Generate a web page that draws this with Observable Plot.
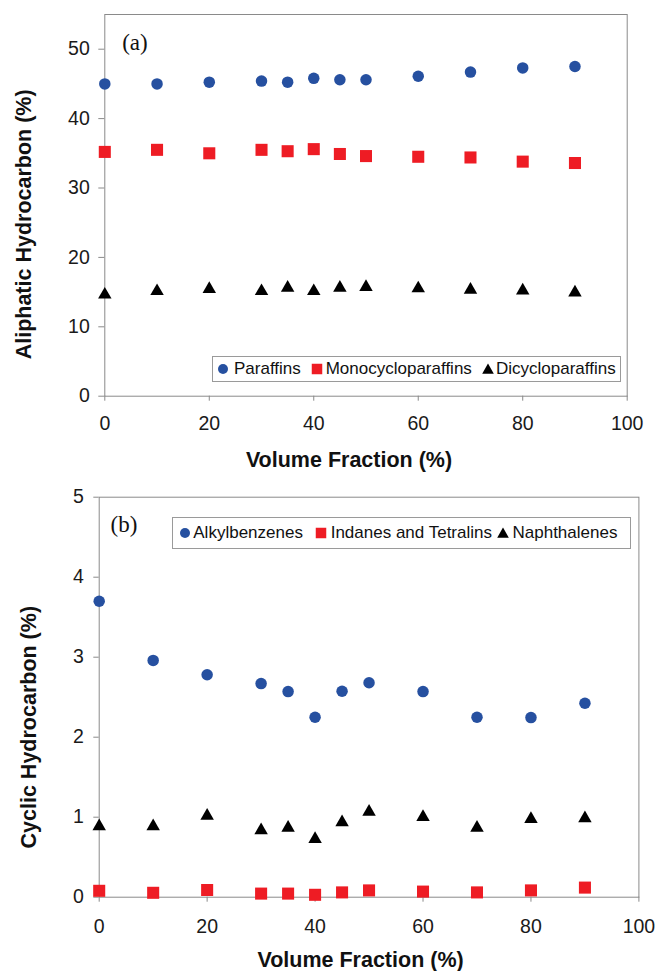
<!DOCTYPE html>
<html>
<head>
<meta charset="utf-8">
<script src="https://cdn.jsdelivr.net/npm/d3@7"></script>
<script src="https://cdn.jsdelivr.net/npm/@observablehq/plot@0.6"></script>
<style>
  body { margin: 0; background: #fff; }
  #wrap { position: relative; width: 658px; height: 971px; overflow: hidden; font-family: "Liberation Sans", Arial, sans-serif; }
  .legend { position: absolute; border: 1px solid #9a9a9a; box-sizing: border-box; background: #fff; }
  .legend span.t { position: absolute; font-size: 17px; color: #111; white-space: nowrap; }
  .legend svg { position: absolute; overflow: visible; }
</style>
</head>
<body>
<div id="wrap"></div>
<script>
// ---- data ----
const volumeFraction = [0, 10, 20, 30, 35, 40, 45, 50, 60, 70, 80, 90];

const paraffins          = [45.0, 45.0, 45.25, 45.4, 45.25, 45.8, 45.6, 45.6, 46.1, 46.7, 47.3, 47.5];
const monocycloparaffins = [35.2, 35.5, 35.0, 35.5, 35.3, 35.6, 34.9, 34.6, 34.5, 34.4, 33.8, 33.6];
const dicycloparaffins   = [14.9, 15.4, 15.7, 15.4, 15.9, 15.4, 15.9, 16.0, 15.8, 15.6, 15.5, 15.2];

const alkylbenzenes      = [3.70, 2.96, 2.78, 2.67, 2.57, 2.25, 2.575, 2.68, 2.57, 2.25, 2.245, 2.425];
const indanesTetralins   = [0.08, 0.055, 0.09, 0.045, 0.045, 0.03, 0.06, 0.085, 0.07, 0.06, 0.085, 0.12];
const naphthalenes       = [0.91, 0.91, 1.04, 0.86, 0.89, 0.75, 0.96, 1.09, 1.025, 0.89, 1.0, 1.01];

const xTicks = [0, 20, 40, 60, 80, 100];
const yTicksA = [0, 10, 20, 30, 40, 50];
const yTicksB = [0, 1, 2, 3, 4, 5];

const seriesA = ["Paraffins", "Monocycloparaffins", "Dicycloparaffins"];
const seriesB = ["Alkylbenzenes", "Indanes and Tetralins", "Naphthalenes"];
const colors = ["#2650a0", "#ee1c24", "#000000"];
const symbols = ["circle", "square", "triangle"];

const xLabel = "Volume Fraction (%)";
const yLabelA = "Aliphatic Hydrocarbon (%)";
const yLabelB = "Cyclic Hydrocarbon (%)";
const panelA = "(a)";
const panelB = "(b)";

// ---- helpers ----
const toRows = (vals) => volumeFraction.map((x, i) => ({x, y: vals[i]}));
const radii = {circle: 5.75, square: 6.8, triangle: 5.0};
const dyOf = {circle: 0, square: 0, triangle: 1.9};

function dots(vals, k) {
  const s = symbols[k];
  return Plot.dot(toRows(vals), {x: "x", y: "y", symbol: () => s, fill: colors[k], stroke: "none", r: radii[s], dy: dyOf[s]});
}

function makePanel({series, yDomain, yTicks, width, height, margins, ty, tx, xlab, ylab, tag}) {
  return Plot.plot({
    width, height,
    marginLeft: margins[0], marginRight: margins[1], marginTop: margins[2], marginBottom: margins[3],
    x: {domain: [0, 100]},
    y: {domain: yDomain},
    symbol: {domain: symbols, range: symbols},
    style: {fontFamily: "Liberation Sans, Arial, sans-serif", fontSize: "19.5px", color: "#1a1a1a", background: "white", overflow: "visible"},
    marks: [
      Plot.frame({stroke: "#8a8a8a"}),
      Plot.axisY({ticks: yTicks, tickSize: ty[0], tickPadding: ty[1], stroke: "#8a8a8a", label: null, tickFormat: d => String(d)}),
      Plot.axisX({ticks: xTicks, tickSize: tx[0], tickPadding: tx[1], stroke: "#8a8a8a", label: null, tickFormat: d => String(d)}),
      Plot.text([xLabel], {text: d => d, frameAnchor: "bottom", lineAnchor: "middle", dx: xlab[0], dy: xlab[1], fontSize: 21.5, fontWeight: "bold", fill: "#111"}),
      Plot.text([ylab[2]], {text: d => d, frameAnchor: "left", lineAnchor: "middle", textAnchor: "middle", rotate: -90, dx: ylab[0], dy: ylab[1], fontSize: 21.5, fontWeight: "bold", fill: "#111"}),
      Plot.text([tag[2]], {text: d => d, frameAnchor: "top-left", textAnchor: "start", lineAnchor: "middle", dx: tag[0], dy: tag[1], fontSize: 23, fontFamily: "Liberation Serif, Times New Roman, serif", fill: "#111"}),
      ...series.map((vals, k) => dots(vals, k))
    ]
  });
}

const wrap = document.getElementById("wrap");

const chartA = makePanel({
  series: [paraffins, monocycloparaffins, dicycloparaffins],
  yDomain: [0, 55], yTicks: yTicksA,
  width: 658, height: 480,
  margins: [104.3, 31.3, 14, 84.3],
  ty: [6, 9], tx: [5, 15.3],
  xlab: [-17, 64.3], ylab: [-80.3, 19, yLabelA], tag: [17.4, 28, panelA]
});
chartA.style.position = "absolute";
chartA.style.left = "0px";
chartA.style.top = "0px";
wrap.appendChild(chartA);

const chartB = makePanel({
  series: [alkylbenzenes, indanesTetralins, naphthalenes],
  yDomain: [0, 5], yTicks: yTicksB,
  width: 658, height: 491,
  margins: [98.7, 19.6, 16.7, 74.3],
  ty: [5.4, 10], tx: [5, 17.3],
  xlab: [-8.5, 63.3], ylab: [-69.7, 30, yLabelB], tag: [11.3, 27.3, panelB]
});
chartB.style.position = "absolute";
chartB.style.left = "0px";
chartB.style.top = "480px";
wrap.appendChild(chartB);

// ---- legends (HTML overlays) ----
function legend(box, names, symX, textX) {
  const div = document.createElement("div");
  div.className = "legend";
  Object.assign(div.style, {left: box[0] + "px", top: box[1] + "px", width: box[2] + "px", height: box[3] + "px"});
  const cy = box[3] / 2 - 1;
  names.forEach((name, k) => {
    const svg = d3.create("svg").attr("width", 14).attr("height", 14)
      .style("left", (symX[k] - box[0] - 1 - 7) + "px").style("top", (cy - 7) + "px");
    const s = symbols[k];
    if (s === "circle") svg.append("circle").attr("cx", 7).attr("cy", 7).attr("r", 5).attr("fill", colors[k]);
    else if (s === "square") svg.append("rect").attr("x", 1.75).attr("y", 1.75).attr("width", 10.5).attr("height", 10.5).attr("fill", colors[k]);
    else svg.append("path").attr("d", "M7,1.5L12.8,11.8L1.2,11.8Z").attr("fill", colors[k]);
    div.appendChild(svg.node());
    const t = document.createElement("span");
    t.className = "t";
    t.textContent = name;
    Object.assign(t.style, {left: (textX[k] - box[0] - 1) + "px", top: "0px", lineHeight: (box[3] - 2) + "px"});
    div.appendChild(t);
  });
  wrap.appendChild(div);
}

legend([212, 356, 409, 26], seriesA, [223.3, 317, 488], [234, 325.7, 496]);
legend([171.7, 516.7, 459, 32.6], seriesB, [185.3, 320.7, 503.5], [512.5, 330.7, 512.5].map((v, i) => i === 1 ? 330.7 : (i === 0 ? 193.3 : v)));
</script>
</body>
</html>
